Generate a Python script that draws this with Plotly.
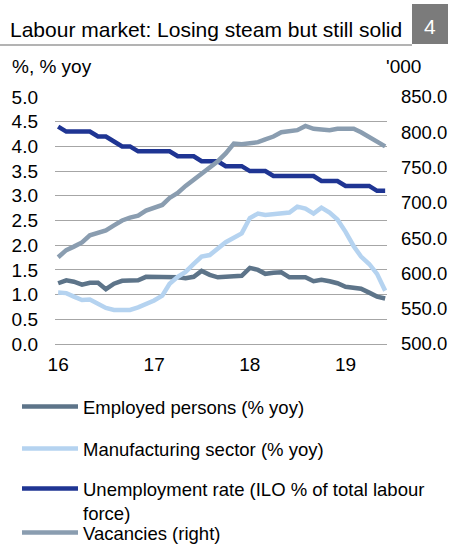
import pandas as pd
import plotly.graph_objects as go

# ---- data (Jan 2016 .. Jun 2019, monthly) ----
months = [d.strftime("%Y-%m-%d") for d in pd.date_range("2016-01-01", "2019-06-01", freq="MS")]

employed = [1.23, 1.29, 1.26, 1.20, 1.24, 1.24, 1.11, 1.22, 1.28, 1.28,
            1.29, 1.36, 1.36, 1.35, 1.35, 1.35, 1.33, 1.36, 1.48, 1.40,
            1.35, 1.35, 1.37, 1.38, 1.54, 1.50, 1.42, 1.44, 1.45, 1.35,
            1.35, 1.35, 1.27, 1.30, 1.27, 1.23, 1.16, 1.15, 1.12, 1.04,
            0.96, 0.92]

manufacturing = [1.04, 1.03, 0.96, 0.89, 0.90, 0.82, 0.73, 0.69, 0.68, 0.69,
                 0.74, 0.80, 0.88, 0.98, 1.22, 1.36, 1.46, 1.62, 1.77, 1.80,
                 1.94, 2.06, 2.15, 2.24, 2.55, 2.64, 2.61, 2.63, 2.65, 2.66,
                 2.78, 2.74, 2.64, 2.76, 2.66, 2.52, 2.27, 1.98, 1.77, 1.62,
                 1.42, 1.08]

unemployment = [4.4, 4.3, 4.3, 4.3, 4.3, 4.2, 4.2, 4.1, 4.0, 4.0,
                3.9, 3.9, 3.9, 3.9, 3.9, 3.8, 3.8, 3.8, 3.7, 3.7,
                3.7, 3.6, 3.6, 3.6, 3.5, 3.5, 3.5, 3.4, 3.4, 3.4,
                3.4, 3.4, 3.4, 3.3, 3.3, 3.3, 3.2, 3.2, 3.2, 3.2,
                3.1, 3.1]

vacancies = [623, 633, 638, 644, 654, 658, 661, 668, 675, 679,
             682, 689, 693, 697, 707, 714, 724, 733, 742, 750,
             759, 770, 784, 783, 784, 786, 790, 794, 800, 802,
             803, 809, 805, 804, 803, 805, 805, 805, 800, 793,
             788, 780]

year_ticks = ["2016-01-01", "2017-01-01", "2018-01-01", "2019-01-01"]
year_labels = ["16", "17", "18", "19"]
left_ticks = [0, 0.5, 1, 1.5, 2, 2.5, 3, 3.5, 4, 4.5, 5]
right_ticks = [500, 550, 600, 650, 700, 750, 800, 850]

names = ["Employed persons (% yoy)",
         "Manufacturing sector (% yoy)",
         "Unemployment rate (ILO % of total labour<br>force)",
         "Vacancies (right)"]
colors = ["#5d7489", "#b5d3f0", "#1f3593", "#8a9db0"]

FONT = "Liberation Sans, Arial, sans-serif"
W, H = 450, 544
L, R, T, B = 55, 387, 97, 344  # plot area in px


def px(x):
    return (x - L) / (R - L)


def py(y):
    return (B - y) / (B - T)


fig = go.Figure()
series = [employed, manufacturing, unemployment]
legends = ["legend", "legend2", "legend3"]
for s, n, c, lg in zip(series, names[:3], colors[:3], legends):
    fig.add_trace(go.Scatter(x=months, y=s, name=n, mode="lines",
                             line=dict(color=c, width=4.5), legend=lg))
fig.add_trace(go.Scatter(x=months, y=vacancies, name=names[3], mode="lines",
                         line=dict(color=colors[3], width=4.5), yaxis="y2",
                         legend="legend4"))

leg_centers = [407, 449, 490, 533]
leg_common = dict(xref="container", yref="container", x=17 / W, xanchor="left",
                  yanchor="middle", bgcolor="rgba(0,0,0,0)", itemwidth=56,
                  font=dict(family=FONT, size=18.5, color="#000"),
                  valign="top", tracegroupgap=0, itemclick=False)
layout_legs = {}
for lg, yc in zip(["legend", "legend2", "legend3", "legend4"], leg_centers):
    d = dict(leg_common)
    d["y"] = 1 - yc / H
    if lg == "legend3":
        d["yanchor"] = "top"
        d["y"] = 1 - (yc - 20) / H
    layout_legs[lg] = d

fig.update_layout(
    width=W, height=H,
    margin=dict(l=L, r=W - R, t=T, b=H - B, autoexpand=False),
    paper_bgcolor="white", plot_bgcolor="white",
    font=dict(family=FONT, size=19, color="#000"),
    showlegend=True,
    xaxis=dict(type="date", range=["2015-12-20", "2019-06-08"],
               tickvals=year_ticks, ticktext=year_labels, showgrid=False,
               zeroline=False, showline=True, linecolor="#a6a6a6", linewidth=1,
               ticks="", ticklabelstandoff=3,
               tickfont=dict(family=FONT, size=19, color="#000")),
    yaxis=dict(range=[0, 5], tickvals=left_ticks,
               ticktext=[f"{v:.1f}" for v in left_ticks],
               showgrid=True, gridcolor="#a6a6a6", gridwidth=1, zeroline=False,
               showline=False, ticks="", ticklabelstandoff=16,
               tickfont=dict(family=FONT, size=19, color="#000")),
    yaxis2=dict(range=[500, 850], tickvals=right_ticks,
                ticktext=[f"{v:.1f}" for v in right_ticks],
                overlaying="y", side="right", showgrid=False, zeroline=False,
                showline=False, ticks="", ticklabelstandoff=13,
                tickfont=dict(family=FONT, size=18.5, color="#000")),
    **layout_legs,
)

# header: title, separator, number box
fig.add_shape(type="line", xref="paper", yref="paper", x0=px(0), x1=px(412),
              y0=py(45), y1=py(45), line=dict(color="#9a9a9a", width=1.5))
fig.add_shape(type="rect", xref="paper", yref="paper", x0=px(412), x1=px(448),
              y0=py(44), y1=py(4), line=dict(width=0), fillcolor="#7b7b7b")
fig.add_annotation(xref="paper", yref="paper", x=px(8), y=py(29), xanchor="left",
                   yanchor="middle", showarrow=False,
                   text="Labour market: Losing steam but still solid",
                   font=dict(family=FONT, size=21, color="#000"))
fig.add_annotation(xref="paper", yref="paper", x=px(430), y=py(26), xanchor="center",
                   yanchor="middle", showarrow=False, text="4",
                   font=dict(family=FONT, size=21, color="#fff"))
fig.add_annotation(xref="paper", yref="paper", x=px(10), y=py(66), xanchor="left",
                   yanchor="middle", showarrow=False, text="%, % yoy",
                   font=dict(family=FONT, size=19, color="#000"))
fig.add_annotation(xref="paper", yref="paper", x=px(423), y=py(66), xanchor="right",
                   yanchor="middle", showarrow=False, text="'000",
                   font=dict(family=FONT, size=19, color="#000"))

fig.write_html("out.html", config={"displayModeBar": False},
               post_script="document.body.style.margin='0';")
